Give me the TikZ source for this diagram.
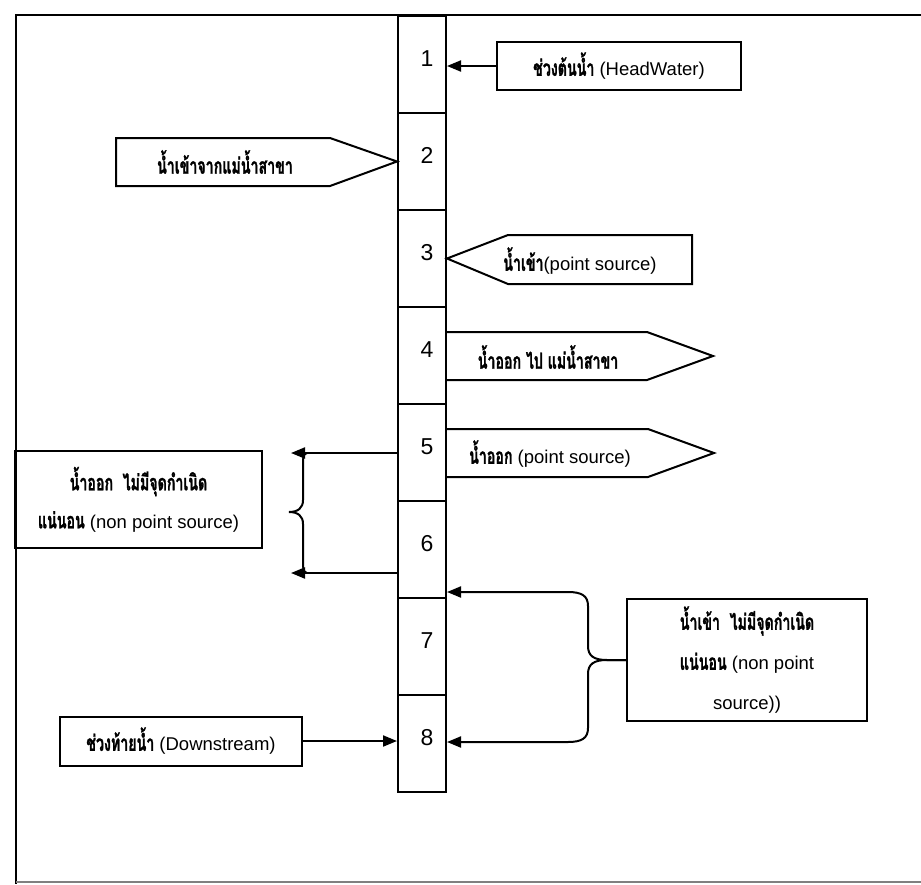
\documentclass[tikz,border=0pt]{standalone}
\usepackage{fontspec}
\setmainfont{Liberation Sans}
\newfontfamily\thai[Script=Thai,Scale=1.2,FakeStretch=0.64,BoldFeatures={FakeBold=1.2}]{Loma}
\usetikzlibrary{arrows.meta}
\begin{document}
\begin{tikzpicture}[x=1pt,y=-1pt,
  ln/.style={line width=2pt},
  cell/.style={draw,line width=2pt,minimum width=48pt,minimum height=97pt,inner sep=0pt},
  box/.style={draw,line width=2pt,inner sep=0pt,align=center,font=\fontsize{18.5}{20}\selectfont},
  txt/.style={inner sep=0pt,font=\fontsize{18.5}{20}\selectfont},
  arr/.style={line width=2pt,-{Triangle[length=14pt,width=11pt]}},
  num/.style={font=\fontsize{23}{26}\selectfont}]
\useasboundingbox (0,0) rectangle (921,884);
% frame
\draw[ln] (921,15) -- (16,15) -- (16,884);
\draw[gray,line width=1.2pt] (16,882) -- (921,882);
% column of cells
\foreach \i in {1,...,8}
  \node[cell, label={[num,xshift=5pt,yshift=6pt]center:\i}] (c\i) at (422,{16+97*(\i-0.5)}) {};
% 1: headwater
\node[box,minimum width=244pt,minimum height=48pt] (hw) at (619,66) {{\thai\bfseries ช่วงต้นน้ำ} (HeadWater)};
\draw[arr] (hw.west) -- (c1.east |- hw.west);
% 2: tributary inflow
\draw[ln] (116,138) -- (330,138) -- (c2.west) -- (330,186) -- (116,186) -- cycle;
\node[txt] (t2) at (225,162) {\thai\bfseries น้ำเข้าจากแม่น้ำสาขา};
% 3: point source inflow
\draw[ln] (c3.east) -- (508,235) -- (692,235) -- (692,284) -- (508,284) -- cycle;
\node[txt] (t3) at (580,261) {{\thai\bfseries น้ำเข้า}(point source)};
% 4: outflow to tributary
\draw[ln] (c4.east |- 0,332) -- (647,332) -- (713,356) -- (647,380) -- (c4.east |- 0,380);
\node[txt] (t4) at (548,357) {\thai\bfseries น้ำออก ไป แม่น้ำสาขา};
% 5: point source outflow
\draw[ln] (c5.east |- 0,429) -- (648,429) -- (714,453) -- (648,477) -- (c5.east |- 0,477);
\node[txt] (t5) at (550,454) {{\thai\bfseries น้ำออก} (point source)};
% non point source outflow
\node[box,minimum width=247pt,minimum height=97pt,font=\fontsize{18.5}{38}\selectfont] (npsout) at (138.5,499.5)
  {{\thai\bfseries น้ำออก~~ไม่มีจุดกำเนิด}\\{\thai\bfseries แน่นอน} (non point source)};
\draw[arr] (c5.west |- 0,453) -- (291,453);
\draw[arr] (c6.west |- 0,573) -- (291,573);
\draw[ln] (307,453) .. controls (303,454) and (303,458) .. (303,464) -- (303,500)
  .. controls (303,508) and (298,512) .. (289,512)
  .. controls (298,512) and (303,516) .. (303,524) -- (303,562)
  .. controls (303,568) and (303,572) .. (307,573);
% non point source inflow
\node[box,minimum width=240pt,minimum height=122pt,font=\fontsize{18.5}{40}\selectfont] (npsin) at (747,660)
  {{\thai\bfseries น้ำเข้า~~ไม่มีจุดกำเนิด}\\{\thai\bfseries แน่นอน} (non point\\source))};
\draw[arr] (npsin.west) -- (607,660) .. controls (594,660) and (588,656) .. (588,646) -- (588,606)
  .. controls (588,596) and (582,592) .. (568,592) -- (c6.east |- 0,592);
\draw[arr] (npsin.west) -- (607,660) .. controls (594,660) and (588,664) .. (588,674) -- (588,728)
  .. controls (588,738) and (582,742) .. (568,742) -- (c8.east |- 0,742);
% downstream
\node[box,minimum width=242pt,minimum height=49pt] (ds) at (181,741) {{\thai\bfseries ช่วงท้ายน้ำ} (Downstream)};
\draw[arr] (ds.east) -- (c8.west |- ds.east);
\end{tikzpicture}
\end{document}
